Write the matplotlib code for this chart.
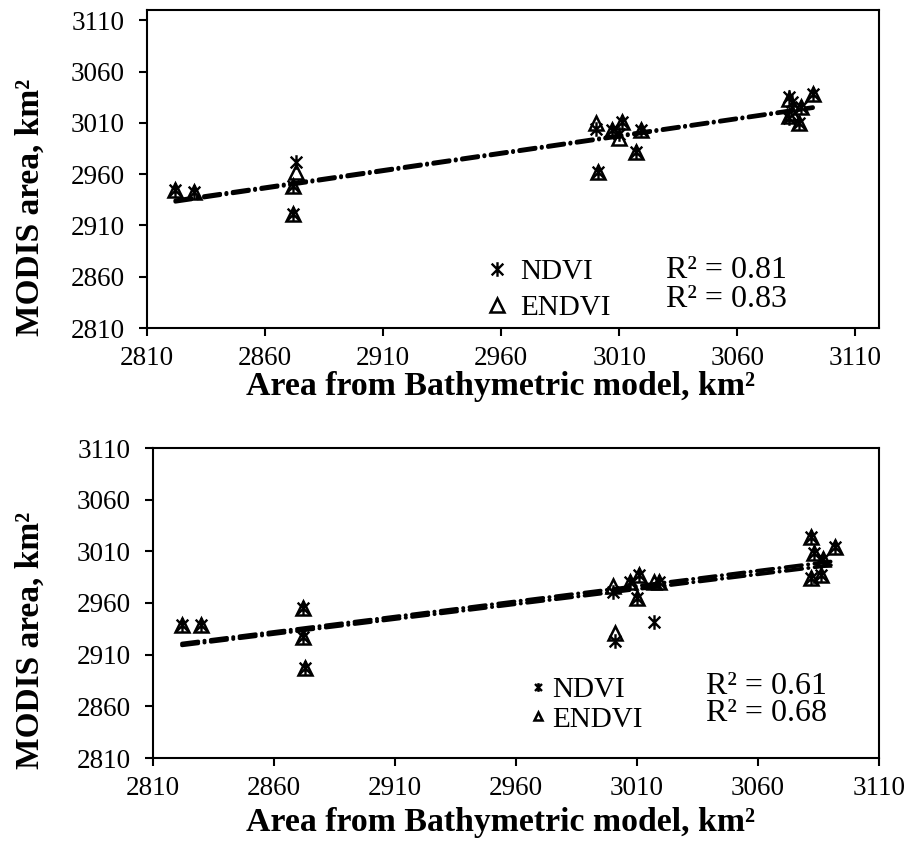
import numpy as np
import matplotlib
matplotlib.use("Agg")
import matplotlib.pyplot as plt
from matplotlib.path import Path
from matplotlib.lines import Line2D

plt.rcParams['font.family'] = ['Liberation Serif', 'DejaVu Serif']

# ---------------- data ----------------
bathy_area = [2822, 2830, 2872, 2872, 2873, 3000, 3001, 3007, 3010, 3011,
              3017, 3019, 3082, 3082, 3083, 3086, 3087, 3092]

top_ndvi = [2945, 2943, 2948, 2921, 2972, 3004, 2962, 3003, 2999, 3011,
            2982, 3003, 3035, 3015, 3030, 3010, 3025, 3038]
top_endvi = [2945, 2943, 2948, 2921, 2962, 3010, 2962, 3003, 2995, 3011,
             2982, 3003, 3033, 3017, 3020, 3010, 3025, 3038]

bot_ndvi = [2939, 2939, 2955, 2927, 2897, 2971, 2923, 2980, 2965, 2987,
            2942, 2980, 3024, 2984, 3008, 2987, 3003, 3014]
bot_endvi = [2939, 2939, 2955, 2927, 2897, 2976, 2931, 2980, 2965, 2987,
             2980, 2980, 3024, 2984, 3008, 2987, 3003, 3014]

series_names = ["NDVI", "ENDVI"]
top_r2 = ["R² = 0.81", "R² = 0.83"]
bot_r2 = ["R² = 0.61", "R² = 0.68"]
tick_values = list(range(2810, 3111, 50))
xlabel = "Area from Bathymetric model, km²"
ylabel = "MODIS area, km²"

# ---------------- styles ----------------
star = Path([(0, -1), (0, 1), (-0.8, -0.8), (0.8, 0.8), (-0.8, 0.8), (0.8, -0.8)],
            [Path.MOVETO, Path.LINETO, Path.MOVETO, Path.LINETO, Path.MOVETO, Path.LINETO])

W, H = 909, 850
fig = plt.figure(figsize=(W / 100, H / 100), dpi=100)


def px_axes(l, r, t, b):
    return fig.add_axes([l / W, 1 - b / H, (r - l) / W, (b - t) / H])


ax1 = px_axes(147, 879, 10, 328)
ax2 = px_axes(153, 879, 448, 758)

TICK_FS = 19.5
dash_style = (0, (4.2, 1.6, 0.05, 1.6))


def style_axes(ax, lim_hi):
    ax.set_xlim(2810, lim_hi)
    ax.set_ylim(2810, lim_hi)
    ax.set_xticks(tick_values)
    ax.set_yticks(tick_values)
    ax.set_xticklabels([str(v) for v in tick_values])
    ax.set_yticklabels([str(v) for v in tick_values])
    for s in ax.spines.values():
        s.set_linewidth(1.5)
    ax.tick_params(axis='both', direction='out', length=6, width=1.5,
                   labelsize=TICK_FS)
    ax.tick_params(axis='x', pad=7)
    ax.tick_params(axis='y', pad=10)


def draw(ax, ndvi, endvi, r2, lim_hi, leg_anchor, r2_pos, leg_scale, leg_sp,
         hl, htp):
    x = np.array(bathy_area, dtype=float)
    for vals in (ndvi, endvi):
        k, b = np.polyfit(x, np.array(vals, dtype=float), 1)
        xs = np.array([x.min(), x.max()])
        ax.plot(xs, k * xs + b, color='black', lw=2.8, linestyle=dash_style,
                dash_capstyle='round', zorder=2)
    ax.plot(x, endvi, linestyle='none', marker='^', ms=9.5, mfc='none',
            mec='black', mew=1.8, zorder=3)
    ax.plot(x, ndvi, linestyle='none', marker=star, ms=10.5, mfc='none',
            mec='black', mew=1.7, zorder=4)
    style_axes(ax, lim_hi)
    handles = [Line2D([], [], linestyle='none', marker=star, ms=10.5, mec='black',
                      mew=1.7, mfc='none'),
               Line2D([], [], linestyle='none', marker='^', ms=9.5, mec='black',
                      mew=1.8, mfc='none')]
    ax.legend(handles, series_names, loc='upper left', bbox_to_anchor=leg_anchor,
              frameon=False, fontsize=21, handlelength=hl, handletextpad=htp,
              borderpad=0, borderaxespad=0, labelspacing=leg_sp,
              markerscale=leg_scale)
    for txt, (tx, ty) in zip(r2, r2_pos):
        ax.text(tx, ty, txt, transform=ax.transAxes, fontsize=23, ha='left',
                va='center')


draw(ax1, top_ndvi, top_endvi, top_r2, 3120, (0.458, 0.217),
     [(0.709, 0.182), (0.709, 0.090)], 1.0, 0.32, 1.0, 0.3)
draw(ax2, bot_ndvi, bot_endvi, bot_r2, 3110, (0.52, 0.262),
     [(0.762, 0.232), (0.762, 0.142)], 0.6, 0.1, 0.5, 0.25)

fig.text(500 / W, 1 - 386 / H, xlabel, fontsize=24.3, fontweight='bold',
         ha='center', va='center')
fig.text(500 / W, 1 - 823 / H, xlabel, fontsize=24.3, fontweight='bold',
         ha='center', va='center')
fig.text(30 / W, 1 - 207 / H, ylabel, fontsize=24, fontweight='bold',
         ha='center', va='center', rotation=90)
fig.text(30 / W, 1 - 640 / H, ylabel, fontsize=24, fontweight='bold',
         ha='center', va='center', rotation=90)

fig.savefig("out.png", dpi=100)
